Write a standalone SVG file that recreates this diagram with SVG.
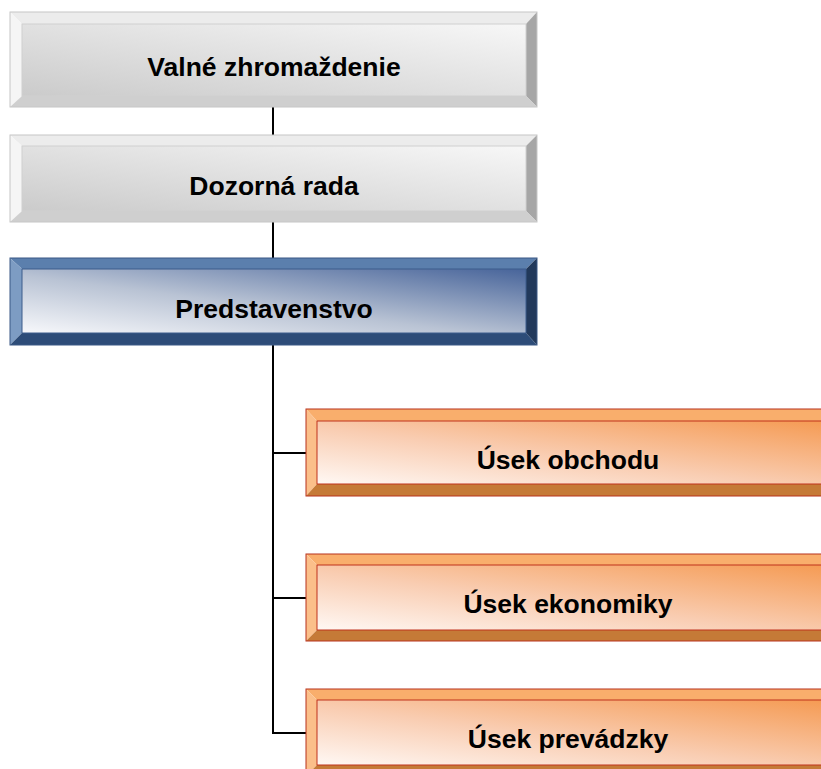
<svg xmlns="http://www.w3.org/2000/svg" width="821" height="769" viewBox="0 0 821 769">
<defs>
<linearGradient id="gGray" x1="1" y1="0" x2="0" y2="1">
<stop offset="0" stop-color="#f7f7f7"/>
<stop offset="1" stop-color="#cbcbcb"/>
</linearGradient>
<linearGradient id="gBlue" x1="1" y1="0" x2="0" y2="1">
<stop offset="0" stop-color="#47649a"/>
<stop offset="0.55" stop-color="#b9c3d4"/>
<stop offset="1" stop-color="#f7f8fb"/>
</linearGradient>
<linearGradient id="gOrange" x1="1" y1="0" x2="0" y2="1">
<stop offset="0" stop-color="#f59a52"/>
<stop offset="0.55" stop-color="#f9cdb2"/>
<stop offset="1" stop-color="#fff8f4"/>
</linearGradient>
</defs>
<style>
.lbl{font-family:"Liberation Sans",Arial,sans-serif;font-weight:bold;font-size:26.5px;fill:#000;text-anchor:middle}
.con{stroke:#000;stroke-width:2;fill:none}
.gray .t{fill:#ececec}.gray .l{fill:#f5f5f5}.gray .r{fill:#a6a6a6}.gray .b{fill:#cfcfcf}
.gray .o{fill:none;stroke:#c6c6c6;stroke-width:1}.gray .f{fill:url(#gGray);stroke:#d0d0d0;stroke-width:1}
.blue .t{fill:#5b7fad}.blue .l{fill:#7d9cc3}.blue .r{fill:#22395b}.blue .b{fill:#2d4c78}
.blue .o{fill:none;stroke:#3a5885;stroke-width:1}.blue .f{fill:url(#gBlue);stroke:#3d5c8c;stroke-width:1}
.org .t{fill:#f9ae6c}.org .l{fill:#fbbf8a}.org .r{fill:#a8571e}.org .b{fill:#c57a37}
.org .o{fill:none;stroke:#b8321c;stroke-width:1}.org .f{fill:url(#gOrange);stroke:#c0321c;stroke-width:1}
</style>
<g id="connectors">
<line class="con" x1="273" y1="107" x2="273" y2="135"/>
<line class="con" x1="273" y1="222" x2="273" y2="258"/>
<polyline class="con" points="273,345 273,733 306,733"/>
<line class="con" x1="273" y1="453" x2="306" y2="453"/>
<line class="con" x1="273" y1="598" x2="306" y2="598"/>
</g>
<g id="valne" class="gray">
<polygon class="t" points="10,12 537,12 526,24 22,24"/>
<polygon class="l" points="10,12 22,24 22,96 10,107"/>
<polygon class="r" points="537,12 537,107 526,96 526,24"/>
<polygon class="b" points="10,107 22,96 526,96 537,107"/>
<rect class="f" x="22" y="24" width="504" height="72"/>
<rect class="o" x="10" y="12" width="527" height="95"/>
<text class="lbl" x="274" y="76">Valné zhromaždenie</text>
</g>
<g id="dozorna" class="gray">
<polygon class="t" points="10,135 537,135 526,146 22,146"/>
<polygon class="l" points="10,135 22,146 22,211 10,222"/>
<polygon class="r" points="537,135 537,222 526,211 526,146"/>
<polygon class="b" points="10,222 22,211 526,211 537,222"/>
<rect class="f" x="22" y="146" width="504" height="65"/>
<rect class="o" x="10" y="135" width="527" height="87"/>
<text class="lbl" x="274" y="195">Dozorná rada</text>
</g>
<g id="predstavenstvo" class="blue">
<polygon class="t" points="10,258 537,258 526,269 22,269"/>
<polygon class="l" points="10,258 22,269 22,333 10,345"/>
<polygon class="r" points="537,258 537,345 526,333 526,269"/>
<polygon class="b" points="10,345 22,333 526,333 537,345"/>
<rect class="f" x="22" y="269" width="504" height="64"/>
<rect class="o" x="10" y="258" width="527" height="87"/>
<text class="lbl" x="274" y="318">Predstavenstvo</text>
</g>
<g id="obchod" class="org">
<polygon class="t" points="306,409 840,409 829,421 317,421"/>
<polygon class="l" points="306,409 317,421 317,484 306,496"/>
<polygon class="b" points="306,496 317,484 829,484 840,496"/>
<rect class="f" x="317" y="421" width="512" height="63"/>
<rect class="o" x="306" y="409" width="534" height="87"/>
<text class="lbl" x="568" y="469">Úsek obchodu</text>
</g>
<g id="ekonomika" class="org">
<polygon class="t" points="306,554 840,554 829,565 317,565"/>
<polygon class="l" points="306,554 317,565 317,630 306,641"/>
<polygon class="b" points="306,641 317,630 829,630 840,641"/>
<rect class="f" x="317" y="565" width="512" height="65"/>
<rect class="o" x="306" y="554" width="534" height="87"/>
<text class="lbl" x="568" y="613">Úsek ekonomiky</text>
</g>
<g id="prevadzka" class="org">
<polygon class="t" points="306,689 840,689 829,700 317,700"/>
<polygon class="l" points="306,689 317,700 317,765 306,776"/>
<polygon class="b" points="306,776 317,765 829,765 840,776"/>
<rect class="f" x="317" y="700" width="512" height="65"/>
<rect class="o" x="306" y="689" width="534" height="87"/>
<text class="lbl" x="568" y="748">Úsek prevádzky</text>
</g>
</svg>
